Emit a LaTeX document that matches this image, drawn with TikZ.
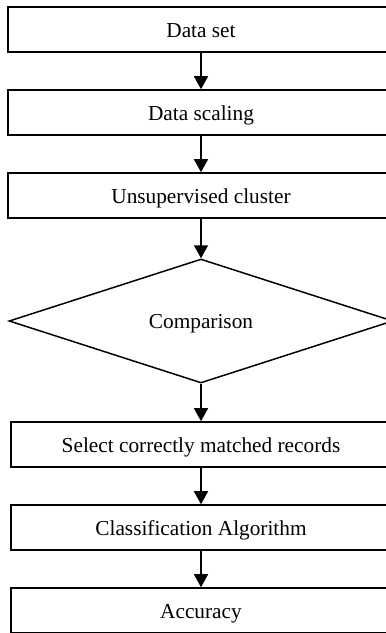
\documentclass[tikz,border=0pt]{standalone}
\usepackage{fontspec}
\setmainfont{Liberation Serif}
\usetikzlibrary{shapes.geometric,arrows.meta}
\begin{document}
\begin{tikzpicture}[x=1pt,y=-1pt,
  box/.style={draw,line width=1.6pt,rectangle,minimum height=45pt,inner sep=0pt,text height=15pt,text depth=0pt,font=\fontsize{21.3}{25}\selectfont},
  dec/.style={draw,line width=1.5pt,diamond,minimum width=384pt,minimum height=124pt,aspect=3.1,inner sep=0pt,text height=15pt,text depth=0pt,font=\fontsize{21.3}{25}\selectfont},
  conn/.style={line width=1.6pt,-{Triangle[width=14pt,length=13pt]}}]
\useasboundingbox (0,0) rectangle (386,633);
\node[box,minimum width=386pt] (a) at (201,29.5) {Data set};
\node[box,minimum width=386pt] (b) at (201,112.5) {Data scaling};
\node[box,minimum width=386pt] (c) at (201,195.5) {Unsupervised cluster};
\node[dec] (d) at (201,321) {Comparison};
\node[box,minimum width=380pt] (e) at (201,444.5) {Select correctly matched records};
\node[box,minimum width=380pt] (f) at (201,527.5) {Classification Algorithm};
\node[box,minimum width=380pt] (g) at (201,610.5) {Accuracy};
\draw[conn] (a) -- (b);
\draw[conn] (b) -- (c);
\draw[conn] (c) -- (d);
\draw[conn] (d) -- (e);
\draw[conn] (e) -- (f);
\draw[conn] (f) -- (g);
\end{tikzpicture}
\end{document}
